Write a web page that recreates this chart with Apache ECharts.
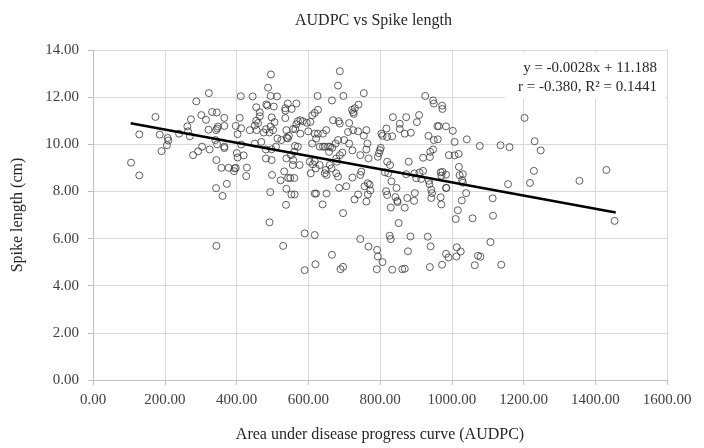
<!DOCTYPE html>
<html>
<head>
<meta charset="utf-8">
<script src="https://cdn.jsdelivr.net/npm/echarts@6.0.0/dist/echarts.min.js"></script>
<style>
  html, body { margin: 0; padding: 0; background: #fff; }
  #chart { width: 704px; height: 448px; }
</style>
</head>
<body>
<div id="chart"></div>
<script>
// AUDPC (x) and spike length in cm (y)
const audpc = [
  174,129,106,129,186,191,208,210,206,240,263,265,270,273,279,
  288,323,496,488,412,445,495,513,
  302,315,332,345,366,409,455,465,465,483,486,504,498,455,460,506,536,536,536,543,554,567,571,
  322,343,346,348,366,398,413,403,437,451,456,476,482,495,502,492,539,543,558,564,567,
  293,304,325,341,346,366,366,401,403,420,413,451,469,482,498,498,482,514,510,525,540,546,539,552,561,563,571,558,557,
  344,358,378,395,398,393,429,427,499,
  523,533,544,550,561,539,553,562,538,494,343,373,361,492,344,530,
  688,683,698,666,626,755,740,730,722,725,727,
  627,618,611,606,596,585,578,669,685,688,
  714,725,739,755,762,711,700,
  578,600,618,627,641,650,622,
  611,632,641,646,655,661,667,658,676,683,
  714,723,745,765,762,768,
  794,797,800,802,804,807,818,820,834,836,855,855,
  688,695,678,680,
  576,604,613,618,621,632,607,
  646,651,649,665,660,
  678,683,686,706,723,745,748,757,766,771,773,766,762,739,729,
  814,823,828,820,832,817,820,846,843,848,849,830,852,
  618,622,651,640,697,
  590,618,745,768,792,794,807,791,827,830,
  666,590,620,690,697,834,862,
  926,948,950,973,974,
  873,909,903,869,886,
  960,964,984,1003,
  935,950,961,1008,1042,1078,1136,
  940,948,920,939,992,1008,1019,
  880,910,920,896,873,901,915,936,938,
  969,974,971,984,985,1020,1022,1031,1029,1031,1040,1028,1017,1011,1058,1115,1114,1157,
  943,945,943,969,971,984,
  876,895,897,869,
  885,933,941,878,984,991,1013,1014,1025,1073,1080,1064,1108,1138,973,939,869,
  1203,1161,1231,1248,1229,1218,1356,1431,1454
];
const spikeLength = [
  11.16,10.42,9.22,8.68,10.41,9.71,10.27,10.16,9.96,10.45,10.76,10.55,10.34,11.06,9.54,
  11.82,12.17,12.96,12.40,12.04,12.03,12.05,12.03,
  11.24,11.04,11.37,11.35,11.12,11.12,11.57,11.36,11.19,11.69,11.64,11.60,11.14,11.00,10.90,10.94,11.53,11.43,11.11,11.73,11.50,11.73,10.98,
  10.62,10.60,10.67,10.75,10.78,10.78,10.68,10.43,10.60,10.80,10.60,10.50,10.64,10.75,10.60,10.50,10.60,10.25,10.65,10.65,10.85,
  9.70,9.90,9.78,10.18,10.00,9.90,9.84,9.63,9.44,9.53,9.99,10.03,10.10,9.78,9.79,9.33,9.40,10.25,9.90,10.18,10.28,10.36,9.40,9.54,9.68,9.93,9.90,9.33,9.12,
  9.33,9.00,9.00,8.98,9.00,8.86,9.01,8.65,8.70,
  8.47,8.85,8.57,8.57,8.57,8.11,7.87,7.87,7.43,7.97,8.14,8.32,7.81,6.69,5.69,5.69,
  13.10,12.49,12.05,11.86,12.05,12.17,11.68,11.53,11.46,11.36,11.29,
  11.46,11.33,11.23,10.95,10.91,10.98,11.02,11.02,10.98,10.88,
  10.90,10.60,10.55,10.36,10.60,10.52,10.18,
  10.45,10.55,10.45,10.45,10.45,10.60,10.24,
  10.03,9.90,9.90,9.90,9.90,9.90,9.85,9.68,10.03,10.18,
  10.03,9.74,9.54,10.03,9.78,9.40,
  9.47,9.62,9.75,9.85,10.45,10.36,10.67,10.31,10.34,11.15,10.87,10.65,
  9.54,9.65,9.40,9.26,
  9.12,9.26,9.15,9.29,8.98,9.12,8.77,
  8.77,8.70,8.91,8.98,9.12,
  8.77,8.63,8.15,8.22,8.59,8.70,8.84,8.22,8.35,8.29,8.04,7.87,7.57,7.87,7.66,
  8.81,8.77,9.12,9.26,8.43,8.01,7.85,8.15,7.76,7.60,7.55,7.32,6.66,
  7.91,7.91,7.91,7.45,7.08,
  6.22,6.15,5.98,5.66,5.52,5.24,5.00,4.70,6.12,5.98,
  5.31,4.66,4.91,4.70,4.80,4.68,4.70,
  12.05,11.86,11.73,11.64,11.50,
  11.15,11.24,10.94,10.45,10.49,
  10.77,10.77,10.76,10.57,
  10.36,10.18,10.21,10.10,10.21,9.93,9.96,
  9.68,9.78,9.43,9.46,9.54,9.53,9.59,
  9.26,8.80,8.87,8.76,8.73,8.56,8.53,8.45,8.31,
  8.81,8.83,8.67,8.71,8.15,9.04,8.69,8.73,8.48,8.37,7.93,7.62,7.20,6.83,6.86,6.97,7.71,8.31,
  8.07,7.93,7.72,7.75,7.45,8.15,
  7.72,7.60,7.93,7.31,
  6.09,6.08,5.67,5.46,5.35,5.20,5.24,5.63,5.45,5.27,5.23,4.87,5.85,4.89,4.89,4.79,4.72,
  11.12,9.88,10.13,9.74,8.87,8.36,8.45,8.91,6.75
];
// linear trendline end points as drawn in the reference
const trendAudpc = [105, 1457];
const trendSpike = [10.89, 7.11];
const equationLines = ['y = -0.0028x + 11.188', 'r = -0.380, R² = 0.1441'];

const points = audpc.map((x, i) => [x, spikeLength[i]]);
const trend = trendAudpc.map((x, i) => [x, trendSpike[i]]);

const serif = '"Liberation Serif", "Times New Roman", serif';
const labelFmt = v => v.toFixed(2);

const myChart = echarts.init(document.getElementById('chart'));
myChart.setOption({
  animation: false,
  backgroundColor: '#fff',
  title: {
    text: 'AUDPC vs Spike length',
    left: 290,
    top: 8,
    textStyle: { fontFamily: serif, fontSize: 16, fontWeight: 'normal', color: '#262626' }
  },
  grid: { left: 93, right: 37, top: 50, bottom: 64 },
  xAxis: {
    type: 'value',
    min: 0, max: 1600, interval: 200,
    name: 'Area under disease progress curve (AUDPC)',
    nameLocation: 'middle',
    nameGap: 47,
    nameTextStyle: { fontFamily: serif, fontSize: 16, color: '#262626' },
    axisLine: { show: true, lineStyle: { color: '#bfbfbf' } },
    axisTick: { show: true, length: 5, lineStyle: { color: '#bfbfbf' } },
    axisLabel: { formatter: labelFmt, fontFamily: serif, fontSize: 15, color: '#404040', margin: 13 },
    splitLine: { show: true, lineStyle: { color: '#d9d9d9' } }
  },
  yAxis: {
    type: 'value',
    min: 0, max: 14, interval: 2,
    name: 'Spike length (cm)',
    nameLocation: 'middle',
    nameGap: 67,
    nameTextStyle: { fontFamily: serif, fontSize: 16, color: '#262626' },
    axisLine: { show: true, lineStyle: { color: '#bfbfbf' } },
    axisTick: { show: true, length: 5, lineStyle: { color: '#bfbfbf' } },
    axisLabel: { formatter: labelFmt, fontFamily: serif, fontSize: 15, color: '#404040', margin: 14 },
    splitLine: { show: true, lineStyle: { color: '#d9d9d9' } }
  },
  graphic: [
    { type: 'rect', left: 505, top: 53, z: 50, shape: { width: 160, height: 46 }, style: { fill: '#fff' } },
    { type: 'text', right: 47, top: 61, z: 51, style: { text: equationLines[0], font: '15px ' + serif, fill: '#262626' } },
    { type: 'text', right: 47, top: 80, z: 51, style: { text: equationLines[1], font: '15px ' + serif, fill: '#262626' } }
  ],
  series: [
    {
      type: 'scatter',
      data: points,
      symbol: 'circle',
      symbolSize: 7,
      itemStyle: { color: 'rgba(0,0,0,0)', borderColor: '#3a3a3a', borderWidth: 1 }
    },
    {
      type: 'line',
      data: trend,
      symbol: 'none',
      z: 5,
      lineStyle: { color: '#000', width: 2.5 }
    }
  ]
});
</script>
</body>
</html>
